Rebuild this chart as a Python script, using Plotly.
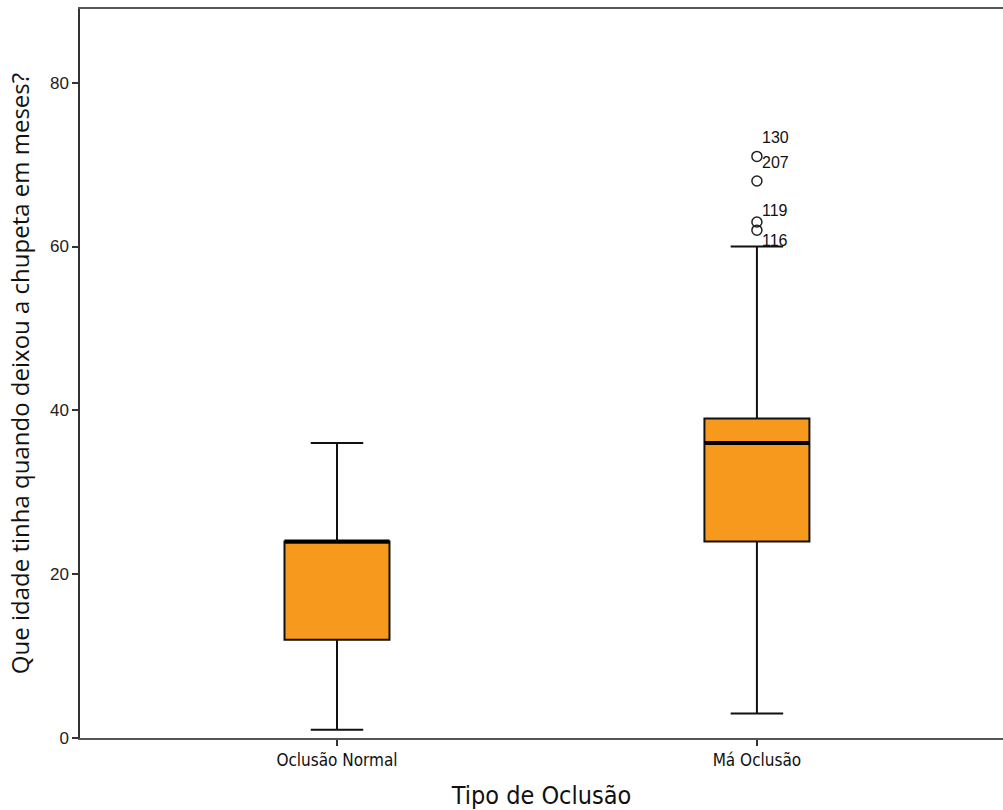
import plotly.graph_objects as go

# Summary statistics per occlusion group (months)
categories = ["Oclusão Normal", "Má Oclusão"]
q1_vals = [12, 24]
median_vals = [24, 36]
q3_vals = [24, 39]
lower_whisker = [1, 3]
upper_whisker = [36, 60]

# Outliers of the "Má Oclusão" group with their case numbers
outlier_values = [71, 68, 63, 62]
outlier_ids = ["130", "207", "119", "116"]
# pixel offsets for the case labels so they don't collide
label_dx = [3, 3, 3, 3]
label_dy = [19, 19, 11, -10]

y_ticks = [0, 20, 40, 60, 80]

box_fill = "#F7991D"
box_half = 0.125
positions = list(range(len(categories)))

fig = go.Figure()

fig.add_trace(go.Box(
    x=positions,
    q1=q1_vals,
    median=median_vals,
    q3=q3_vals,
    lowerfence=lower_whisker,
    upperfence=upper_whisker,
    width=2 * box_half,
    whiskerwidth=0.5,
    fillcolor=box_fill,
    line=dict(color="#111111", width=2),
    boxpoints=False,
    hoverinfo="skip",
    showlegend=False,
))

# thick median bars
for xi, m in zip(positions, median_vals):
    fig.add_trace(go.Scatter(
        x=[xi - box_half, xi + box_half], y=[m, m],
        mode="lines", line=dict(color="#000000", width=4),
        showlegend=False, hoverinfo="skip",
    ))

# outlier circles
fig.add_trace(go.Scatter(
    x=[1] * len(outlier_values), y=outlier_values,
    mode="markers",
    marker=dict(symbol="circle-open", size=10, color="#222222", line=dict(width=1.5)),
    showlegend=False, hoverinfo="skip",
))

for v, lab, dx, dy in zip(outlier_values, outlier_ids, label_dx, label_dy):
    fig.add_annotation(
        x=1, y=v, text=lab, showarrow=False,
        xanchor="left", yanchor="middle", xshift=dx, yshift=dy,
        font=dict(family="Liberation Sans, Arial, sans-serif", size=16, color="#111111"),
    )

fig.update_layout(
    width=1003, height=810,
    margin=dict(l=80, r=0, t=9, b=72),
    paper_bgcolor="white", plot_bgcolor="white",
    xaxis=dict(
        range=[-0.612, 1.586],
        tickvals=positions, ticktext=categories,
        ticks="outside", ticklen=6, tickwidth=1.5, tickcolor="#333333",
        showline=True, linecolor="#555555", linewidth=1.5, mirror=True,
        showgrid=False, zeroline=False,
        tickfont=dict(family="DejaVu Sans Condensed, sans-serif", size=17, color="#111111"),
        title=dict(text="Tipo de Oclusão", standoff=18,
                   font=dict(family="DejaVu Sans Condensed, sans-serif", size=25, color="#111111")),
    ),
    yaxis=dict(
        range=[0, 89],
        tickvals=y_ticks,
        ticks="outside", ticklen=6, tickwidth=1.5, tickcolor="#333333",
        showline=True, linecolor="#333333", linewidth=1.5,
        showgrid=False, zeroline=False,
        tickfont=dict(family="Liberation Sans, Arial, sans-serif", size=17, color="#222222"),
        title=dict(text="Que idade tinha quando deixou a chupeta em meses?", standoff=14,
                   font=dict(family="Open Sans, sans-serif", size=24, color="#111111")),
    ),
)

fig.write_html("out.html")
